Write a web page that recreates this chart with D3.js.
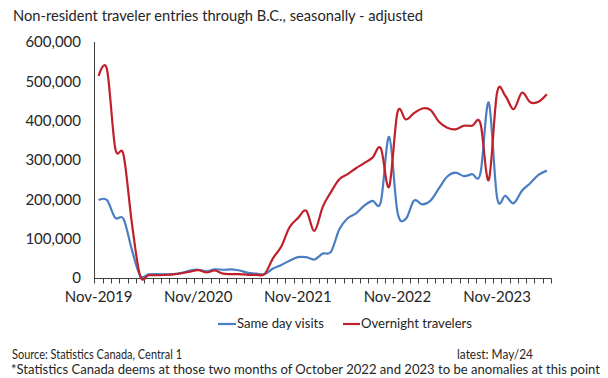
<!DOCTYPE html>
<html><head><meta charset="utf-8">
<script src="https://cdn.jsdelivr.net/npm/d3@7"></script>
<style>
html,body{margin:0;padding:0;background:#fff;}
text{font-family:Lato,"Open Sans",sans-serif;fill:#262626;}
</style></head>
<body><svg id="c" width="608" height="378"></svg>
<script>
const months = [];
for (let i = 0; i < 55; i++) { const d = new Date(2019, 10 + i, 1); months.push(d.getFullYear() + "-" + String(d.getMonth() + 1).padStart(2, "0")); }
const sameDay = [198,198,153,150,72,6,9,10,9,10,13,19,21,17,22,21,22,19,13,11,10,24,33,44,53,53,47,62,67,124,152,164,184,196,194,359,168,150,197,187,197,228,258,268,259,264,266,446,205,209,190,222,241,262,273].map(v=>v*1000);
const overnight = [514,531,330,313,140,5,7,7,8,9,12,16,20,14,19,11,10,10,8,8,10,50,80,129,152,171,120,181,219,251,264,279,292,306,330,232,421,403,419,431,427,397,382,378,387,387,393,249,471,463,429,471,447,448,467].map(v=>v*1000);
const xTickLabels = {"2019-11":"Nov-2019","2020-11":"Nov/2020","2021-11":"Nov-2021","2022-11":"Nov-2022","2023-11":"Nov-2023"};
const yTicks = [0,100000,200000,300000,400000,500000,600000];
const seriesNames = ["Same day visits","Overnight travelers"];
const colors = ["#4a7ec2","#c0202a"];

const svg = d3.select("#c");
const x = d3.scaleBand().domain(months).range([94.5, 551]).padding(0);
const y = d3.scaleLinear().domain([0, 600000]).range([278, 42]);
const fmt = d3.format(",");

function fitText(sel, w){ sel.attr("textLength", w).attr("lengthAdjust","spacingAndGlyphs"); return sel; }

// title
fitText(svg.append("text").attr("x",13).attr("y",21).attr("font-size",15).text("Non-resident traveler entries through B.C., seasonally - adjusted"), 410);

// y axis labels
svg.selectAll(".yl").data(yTicks).enter().append("text")
  .attr("x",81).attr("y",d=>y(d)).attr("dy","0.36em").attr("text-anchor","end")
  .attr("font-size",15).text(d=>fmt(d));

// axis lines
svg.append("line").attr("x1",94.5).attr("x2",94.5).attr("y1",42).attr("y2",278.5).attr("stroke","#404040").attr("stroke-width",1);
svg.append("line").attr("x1",94).attr("x2",551.5).attr("y1",278.5).attr("y2",278.5).attr("stroke","#404040").attr("stroke-width",1);
// ticks at category boundaries
const bounds = months.map(m=>x(m)).concat([x.range()[1]]);
svg.selectAll(".tk").data(bounds).enter().append("line")
  .attr("x1",d=>Math.round(d)+0.5).attr("x2",d=>Math.round(d)+0.5).attr("y1",278.5).attr("y2",283.5)
  .attr("stroke","#404040").attr("stroke-width",1);
// x labels
svg.selectAll(".xl").data(months.filter(m=>xTickLabels[m])).enter().append("text")
  .attr("x",d=>x(d)+x.bandwidth()/2).attr("y",302).attr("text-anchor","middle")
  .attr("font-size",15).text(d=>xTickLabels[d]);

// lines
const line = d3.line().x((d,i)=>x(months[i])+x.bandwidth()/2).y(d=>y(d)).curve(d3.curveCatmullRom.alpha(0));
[sameDay, overnight].forEach((s,k)=>{
  svg.append("path").datum(s).attr("d",line).attr("fill","none").attr("stroke",colors[k]).attr("stroke-width",2.2).attr("stroke-linejoin","round");
});

// legend
const leg = [{x1:218,x2:236,tx:237,w:87},{x1:343,x2:360,tx:361,w:111}];
leg.forEach((l,k)=>{
  svg.append("line").attr("x1",l.x1).attr("x2",l.x2).attr("y1",324).attr("y2",324).attr("stroke",colors[k]).attr("stroke-width",2.2);
  fitText(svg.append("text").attr("x",l.tx).attr("y",328).attr("font-size",14).text(seriesNames[k]), l.w);
});

// footer
fitText(svg.append("text").attr("x",12).attr("y",359).attr("font-size",13).text("Source: Statistics Canada, Central 1"),170);
fitText(svg.append("text").attr("x",457).attr("y",359).attr("font-size",13).text("latest: May/24"),76);
fitText(svg.append("text").attr("x",11).attr("y",374).attr("font-size",13).text("*Statistics Canada deems at those two months of October 2022 and 2023 to be anomalies at this point"),589);
</script></body></html>
